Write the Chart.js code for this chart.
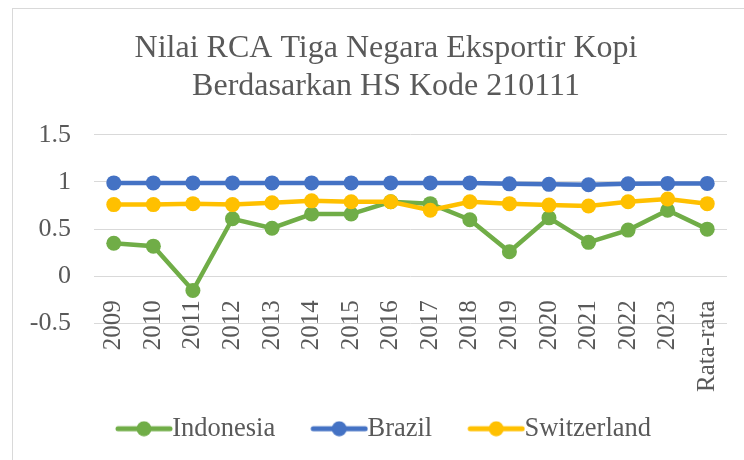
<!DOCTYPE html>
<html>
<head>
<meta charset="utf-8">
<script src="https://cdn.jsdelivr.net/npm/chart.js@4"></script>
<style>
  html, body { margin: 0; padding: 0; background: #fff; overflow: hidden; }
  #frame {
    position: absolute; left: 12px; top: 8px; width: 760px; height: 470px;
    border-left: 1px solid #d9d9d9; border-top: 1px solid #d9d9d9;
  }
  #chart { display: block; }
</style>
</head>
<body>
<div id="frame"><canvas id="chart" width="746" height="452"></canvas></div>
<script>
  // Data
  var categories = ["2009", "2010", "2011", "2012", "2013", "2014", "2015", "2016",
                    "2017", "2018", "2019", "2020", "2021", "2022", "2023", "Rata-rata"];
  var indonesia   = [0.35, 0.32, -0.15, 0.61, 0.51, 0.66, 0.66, 0.79, 0.77, 0.60, 0.26, 0.62, 0.36, 0.49, 0.70, 0.50];
  var brazil      = [0.99, 0.99, 0.99, 0.99, 0.99, 0.99, 0.99, 0.99, 0.99, 0.99, 0.98, 0.975, 0.97, 0.98, 0.985, 0.985];
  var switzerland = [0.76, 0.76, 0.77, 0.76, 0.78, 0.80, 0.79, 0.79, 0.70, 0.79, 0.77, 0.755, 0.745, 0.79, 0.82, 0.77];
  var yTicks = [-0.5, 0, 0.5, 1, 1.5];

  var FONT = "'Liberation Serif', 'Times New Roman', serif";
  var TEXT = "#595959";
  var GRID = "#d9d9d9";

  var colors = { indonesia: "#70AD47", brazil: "#4472C4", switzerland: "#FFC000" };

  // line + dot legend marker, like the office legend
  function makeMarker(color) {
    var c = document.createElement("canvas");
    c.width = 66;
    c.height = 16;
    var g = c.getContext("2d");
    g.strokeStyle = color;
    g.lineWidth = 5;
    g.lineCap = "round";
    g.beginPath();
    g.moveTo(11, 8);
    g.lineTo(63, 8);
    g.stroke();
    g.fillStyle = color;
    g.beginPath();
    g.arc(37, 8, 7.5, 0, Math.PI * 2);
    g.fill();
    return c;
  }

  function series(label, values, color, order) {
    return {
      label: label,
      data: values,
      borderColor: color,
      backgroundColor: color,
      borderWidth: 4.5,
      pointRadius: 7.5,
      pointHoverRadius: 7.5,
      pointBackgroundColor: color,
      pointBorderColor: color,
      pointBorderWidth: 0,
      tension: 0,
      order: order,
      marker: makeMarker(color)
    };
  }

  var datasets = [
    series("Indonesia", indonesia, colors.indonesia, 2),
    series("Brazil", brazil, colors.brazil, 1),
    series("Switzerland", switzerland, colors.switzerland, 0)
  ];

  new Chart(document.getElementById("chart"), {
    type: "line",
    data: { labels: categories, datasets: datasets },
    options: {
      responsive: false,
      animation: false,
      layout: { padding: { top: 0, left: 0, right: 0, bottom: 9 } },
      plugins: {
        tooltip: { enabled: false },
        title: {
          display: true,
          text: ["Nilai RCA Tiga Negara Eksportir Kopi", "Berdasarkan HS Kode 210111"],
          color: TEXT,
          font: { family: FONT, size: 32, weight: "normal", lineHeight: 1.2 },
          padding: { top: 20, bottom: 29 }
        },
        legend: {
          position: "bottom",
          title: { display: true, text: "", font: { size: 10, lineHeight: 1.2 }, padding: { top: 39, bottom: 0 } },
          labels: {
            color: TEXT,
            font: { family: FONT, size: 26.5 },
            usePointStyle: true,
            pointStyleWidth: 38,
            padding: 41,
            sort: function (a, b) { return a.datasetIndex - b.datasetIndex; },
            generateLabels: function (chart) {
              var items = Chart.defaults.plugins.legend.labels.generateLabels(chart);
              items.forEach(function (item) {
                item.pointStyle = chart.data.datasets[item.datasetIndex].marker;
              });
              return items;
            }
          }
        }
      },
      scales: {
        x: {
          position: { y: 0 },
          offset: true,
          grid: { display: false },
          border: { display: false },
          ticks: {
            color: TEXT,
            font: { family: FONT, size: 25 },
            minRotation: 90,
            maxRotation: 90,
            autoSkip: false,
            padding: 16
          }
        },
        y: {
          min: -0.5,
          max: 1.5,
          afterFit: function (scale) { scale.width = 81; },
          afterBuildTicks: function (scale) {
            scale.ticks = yTicks.map(function (v) { return { value: v }; });
          },
          grid: { color: GRID, lineWidth: 1, drawTicks: false },
          border: { display: false },
          ticks: {
            color: TEXT,
            font: { family: FONT, size: 26 },
            padding: 23,
            callback: function (value) { return String(value); }
          }
        },
        // empty right-hand margin axis so the plot ends where the reference's does
        yRight: {
          type: "linear",
          position: "right",
          afterFit: function (scale) { scale.width = 32; },
          grid: { display: false },
          border: { display: false },
          ticks: { display: false }
        }
      }
    }
  });
</script>
</body>
</html>
